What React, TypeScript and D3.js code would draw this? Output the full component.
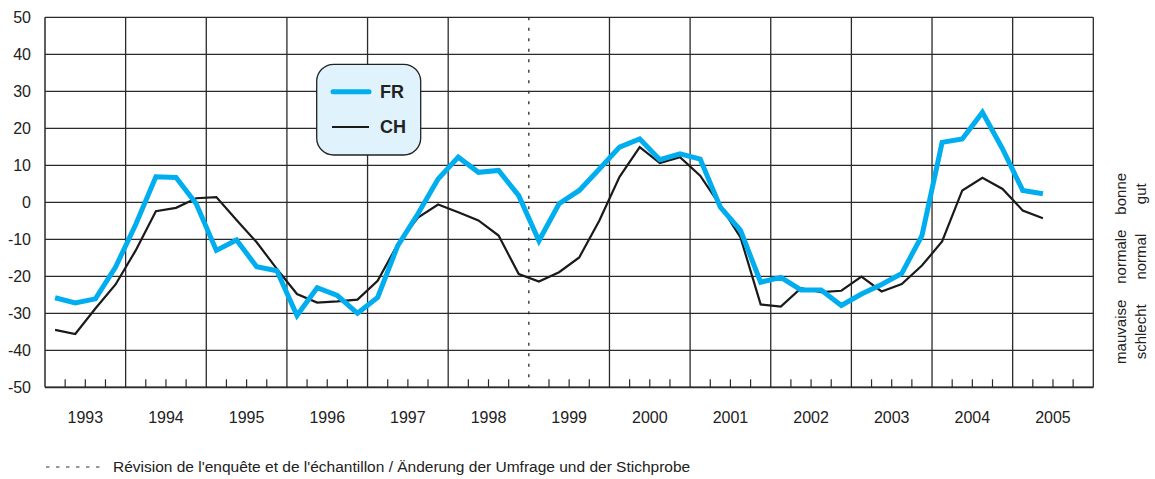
import React from "react";
import * as d3 from "d3";

const years = [1993, 1994, 1995, 1996, 1997, 1998, 1999, 2000, 2001, 2002, 2003, 2004, 2005];
const yTicks = [50, 40, 30, 20, 10, 0, -10, -20, -30, -40, -50];

const frValues = [
  -25.8, -27.2, -26.1, -17.5,
  -6, 6.9, 6.7, -0.4,
  -13, -10.2, -17.4, -18.5,
  -30.6, -23.1, -25.2, -30,
  -25.7, -11.7, -3.1, 6.3,
  12.2, 8.1, 8.6, 1.8,
  -10.4, -0.4, 3.2, 9,
  14.9, 17.1, 11.5, 13.1,
  11.7, -1.3, -7.6, -21.6,
  -20.3, -23.7, -23.7, -27.9,
  -24.8, -22.2, -19.2, -9,
  16.2, 17.1, 24.3, 14.4,
  3.2, 2.3,
];

const chValues = [
  -34.5, -35.6, -28.7, -22.2,
  -13, -2.4, -1.5, 1.1,
  1.4, -4.8, -10.8, -18,
  -24.8, -27.1, -26.8, -26.3,
  -21.2, -11.3, -4.1, -0.6,
  -2.7, -4.9, -9, -19.4,
  -21.4, -18.9, -14.9, -4.9,
  6.9, 14.9, 10.6, 12.2,
  7.2, -0.9, -9.5, -27.6,
  -28.2, -23.2, -24.3, -23.9,
  -20.1, -24.1, -22.1, -17.1,
  -10.6, 3.2, 6.6, 3.6,
  -2.2, -4.3,
];

const revisionYear = 1999;
const seriesNames = ["FR", "CH"];
const rightLabelsFr = ["bonne", "normale", "mauvaise"];
const rightLabelsDe = ["gut", "normal", "schlecht"];
const rightLabelCenter = [2.3, -14.7, -35];
const footnote = "Révision de l'enquête et de l'échantillon / Änderung der Umfrage und der Stichprobe";

const W = 1155;
const H = 479;
const FONT = "'Liberation Sans', Arial, Helvetica, sans-serif";
const BLUE = "#00aeef";
const GRID = "#2a2a2a";

export default function App() {
  const x = d3.scaleLinear().domain([1993, 2006]).range([45, 1093.3]);
  const y = d3.scaleLinear().domain([-50, 50]).range([387.3, 17.3]);

  const pt = (i: number) => 1993 + (i + 0.5) / 4;
  const line = d3
    .line<number>()
    .x((_, i) => x(pt(i)))
    .y((d) => y(d));

  const quarters: number[] = [];
  for (let yr = 1993; yr < 2006; yr++) {
    for (let q = 1; q < 4; q++) quarters.push(yr + q / 4);
  }
  const yearLines = d3.range(1994, 2007);

  return (
    <svg
      width={W}
      height={H}
      style={{ position: "absolute", left: 0, top: 0, background: "#fff" }}
      fontFamily={FONT}
    >
      {/* horizontal grid */}
      {yTicks.map((t) => (
        <line key={"h" + t} x1={x(1993)} x2={x(2006)} y1={y(t)} y2={y(t)} stroke={GRID} strokeWidth={1.3} />
      ))}
      {/* vertical year lines */}
      {yearLines.map((yr) =>
        yr === revisionYear ? (
          <line key={"v" + yr} x1={x(yr)} x2={x(yr)} y1={y(50)} y2={y(-50)} stroke={GRID} strokeWidth={1.3} strokeDasharray="3 7.5" />
        ) : (
          <line key={"v" + yr} x1={x(yr)} x2={x(yr)} y1={y(50)} y2={y(-50)} stroke={GRID} strokeWidth={1.3} />
        )
      )}
      {/* axes */}
      <line x1={x(1993)} x2={x(1993)} y1={y(50)} y2={y(-50)} stroke={GRID} strokeWidth={1.5} />
      <line x1={x(1993)} x2={x(2006)} y1={y(-50)} y2={y(-50)} stroke={GRID} strokeWidth={1.8} />
      {/* quarter ticks */}
      {quarters.map((q) => (
        <line key={"q" + q} x1={x(q)} x2={x(q)} y1={y(-50)} y2={y(-50) - 8} stroke={GRID} strokeWidth={1.2} />
      ))}
      {/* y tick labels */}
      {yTicks.map((t) => (
        <text key={"yl" + t} x={31} y={y(t)} dy="0.35em" textAnchor="end" fontSize={16} fill="#222">
          {t}
        </text>
      ))}
      {/* year labels */}
      {years.map((yr) => (
        <text key={"yr" + yr} x={x(yr + 0.5)} y={417} dy="0.35em" textAnchor="middle" fontSize={16} fill="#222">
          {yr}
        </text>
      ))}
      {/* series */}
      <path d={line(chValues) || ""} fill="none" stroke="#1a1a1a" strokeWidth={2.2} strokeLinejoin="miter" />
      <path d={line(frValues) || ""} fill="none" stroke={BLUE} strokeWidth={5} strokeLinejoin="miter" />
      {/* legend */}
      <rect x={316.7} y={64.3} width={104} height={90.7} rx={17} ry={17} fill="#e0f2fb" stroke="#222" strokeWidth={1.3} />
      <line x1={333} x2={369} y1={91.7} y2={91.7} stroke={BLUE} strokeWidth={5} strokeLinecap="round" />
      <line x1={332} x2={369} y1={127} y2={127} stroke="#1a1a1a" strokeWidth={2.2} />
      <text x={380} y={91.7} dy="0.36em" fontSize={18} fontWeight="bold" fill="#222">
        {seriesNames[0]}
      </text>
      <text x={380} y={127} dy="0.36em" fontSize={18} fontWeight="bold" fill="#222">
        {seriesNames[1]}
      </text>
      {/* right labels */}
      {rightLabelsFr.map((fr, i) => (
        <g key={fr} transform={`translate(1121, ${y(rightLabelCenter[i])}) rotate(-90)`}>
          <text x={0} y={0} dy="0.35em" textAnchor="middle" fontSize={15} fill="#222">
            {fr}
          </text>
          <text x={0} y={20} dy="0.35em" textAnchor="middle" fontSize={15} fill="#222">
            {rightLabelsDe[i]}
          </text>
        </g>
      ))}
      {/* footnote */}
      <line x1={46} x2={104} y1={467} y2={467} stroke="#333" strokeWidth={1} strokeDasharray="3.5 6.5" />
      <text x={113} y={467} dy="0.35em" fontSize={15.5} fill="#222">
        {footnote}
      </text>
    </svg>
  );
}
